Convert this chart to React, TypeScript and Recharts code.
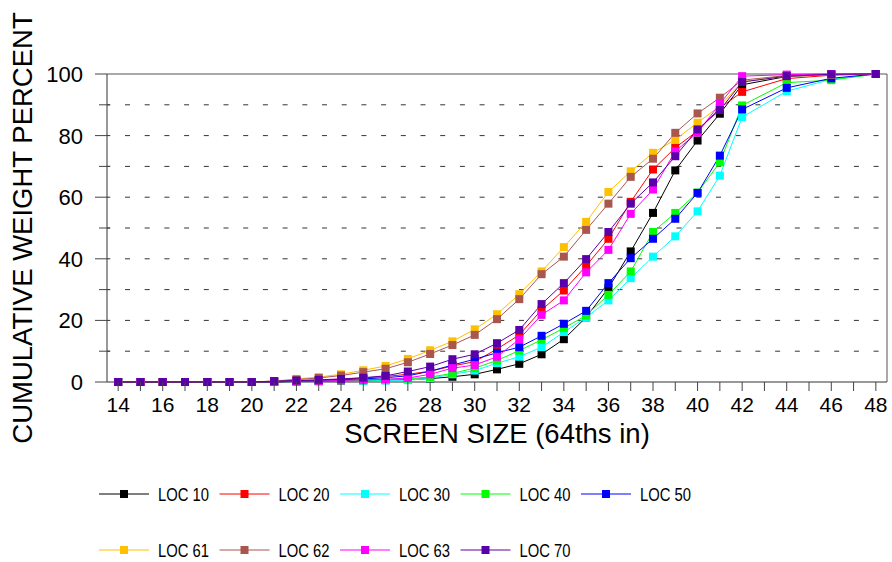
import React from "react";
import {
  LineChart,
  Line,
  XAxis,
  YAxis,
  ReferenceLine,
  Legend,
} from "recharts";

// screen sizes in 64ths of an inch
const sizes = [
  14, 15, 16, 17, 18, 19, 20, 21, 22, 23, 24, 25, 26, 27, 28, 29, 30, 31, 32,
  33, 34, 35, 36, 37, 38, 39, 40, 41, 42, 44, 46, 48,
];

// cumulative weight percent per location
const loc10 = [
  0, 0, 0, 0, 0, 0, 0, 0.1, 0.2, 0.3, 0.4, 0.5, 0.6, 0.8, 1.1, 1.7, 2.5, 4.1,
  5.9, 9.0, 13.9, 21.0, 30.5, 42.4, 54.9, 68.7, 78.4, 87.1, 96.5, 99.2, 99.8, 100,
];
const loc20 = [
  0, 0, 0, 0, 0, 0, 0, 0.2, 0.4, 0.6, 0.9, 1.3, 1.8, 2.5, 3.5, 5.2, 6.6, 10.7,
  15.3, 23.4, 29.7, 37.7, 46.5, 58.5, 69.0, 76.1, 81.5, 89.0, 94.2, 98.5, 99.6, 100,
];
const loc30 = [
  0, 0, 0, 0, 0, 0, 0, 0, 0.1, 0.2, 0.3, 0.4, 0.5, 0.6, 1.2, 2.5, 3.7, 6.1, 8.2,
  11.3, 16.2, 21.0, 26.5, 33.7, 40.7, 47.3, 55.4, 67.0, 86.0, 94.4, 98.3, 100,
];
const loc40 = [
  0, 0, 0, 0, 0, 0, 0, 0, 0.2, 0.3, 0.4, 0.6, 0.8, 1.1, 1.6, 2.8, 4.5, 7.0,
  10.2, 13.7, 17.5, 21.6, 28.3, 35.9, 48.7, 54.9, 61.5, 71.3, 89.8, 97.2, 98.0, 100,
];
const loc50 = [
  0, 0, 0, 0, 0, 0, 0, 0, 0.3, 0.5, 0.7, 1.0, 1.4, 2.0, 3.5, 5.5, 7.4, 9.5,
  11.3, 15.0, 18.9, 23.1, 32.1, 40.2, 46.5, 53.0, 61.4, 73.5, 88.5, 95.5, 98.6, 100,
];
const loc61 = [
  0, 0, 0, 0, 0, 0, 0, 0.3, 1.0, 1.6, 2.5, 3.8, 5.2, 7.5, 10.3, 13.2, 17.1,
  22.0, 28.5, 35.9, 43.8, 52.0, 61.7, 68.4, 74.4, 78.7, 84.2, 89.6, 97.5, 99.3, 99.8, 100,
];
const loc62 = [
  0, 0, 0, 0, 0, 0, 0, 0.2, 0.8, 1.3, 2.1, 3.2, 4.3, 6.4, 9.1, 12.0, 15.3,
  20.4, 26.9, 35.0, 40.7, 49.4, 57.9, 66.6, 72.5, 80.9, 87.2, 92.3, 98.0, 99.5, 99.9, 100,
];
const loc63 = [
  0, 0, 0, 0, 0, 0, 0, 0, 0.2, 0.3, 0.5, 0.7, 0.9, 1.3, 2.5, 4.5, 5.5, 8.2,
  13.9, 21.8, 26.5, 35.6, 42.9, 54.6, 62.5, 74.9, 81.0, 90.3, 99.3, 99.8, 100, 100,
];
const loc70 = [
  0, 0, 0, 0, 0, 0, 0, 0.3, 0.5, 0.7, 1.0, 1.4, 2.0, 3.4, 5.0, 7.4, 9.0, 12.6,
  16.9, 25.3, 32.1, 39.9, 48.7, 57.9, 64.8, 73.3, 82.0, 88.3, 97.4, 99.3, 99.9, 100,
];

const xTicks = [
  14, 15, 16, 17, 18, 19, 20, 21, 22, 23, 24, 25, 26, 27, 28, 29, 30, 31, 32,
  33, 34, 35, 36, 37, 38, 39, 40, 41, 42, 43, 44, 45, 46, 47, 48,
];
const yTicks = [0, 10, 20, 30, 40, 50, 60, 70, 80, 90, 100];
const gridLevels = [10, 20, 30, 40, 50, 60, 70, 80, 90];

const series = [
  { key: "LOC 10", values: loc10, color: "#000000" },
  { key: "LOC 20", values: loc20, color: "#FF0000" },
  { key: "LOC 30", values: loc30, color: "#00FFFF" },
  { key: "LOC 40", values: loc40, color: "#00FF00" },
  { key: "LOC 50", values: loc50, color: "#0000FF" },
  { key: "LOC 61", values: loc61, color: "#FFC000" },
  { key: "LOC 62", values: loc62, color: "#A9564F" },
  { key: "LOC 63", values: loc63, color: "#FF00FF" },
  { key: "LOC 70", values: loc70, color: "#5A00A8" },
];

const chartData = sizes.map((size, i) => {
  const row: { [key: string]: number } = { size };
  series.forEach((s) => {
    row[s.key] = s.values[i];
  });
  return row;
});

const FONT = '"Liberation Sans", Arial, sans-serif';

function SquareDot(props: any) {
  const { cx, cy, stroke } = props;
  if (cx == null || cy == null) return null;
  return <rect x={cx - 4} y={cy - 4} width={8} height={8} fill={stroke} />;
}

function XTick(props: any) {
  const { x, y, payload } = props;
  const v = payload.value;
  return (
    <g>
      <line x1={x} y1={y} x2={x} y2={y + 9} stroke="#444" strokeWidth={1} />
      {v % 2 === 0 && (
        <text
          x={x}
          y={y + 30}
          textAnchor="middle"
          fontFamily={FONT}
          fontSize={21}
          fill="#000"
        >
          {v}
        </text>
      )}
    </g>
  );
}

function YTick(props: any) {
  const { x, y, payload } = props;
  const v = payload.value;
  const major = v % 20 === 0;
  return (
    <g>
      <line
        x1={major ? x - 12 : x - 8}
        y1={y}
        x2={major ? x : x + 3}
        y2={y}
        stroke="#444"
        strokeWidth={1}
      />
      {major && (
        <text
          x={x - 24}
          y={y + 8}
          textAnchor="end"
          fontFamily={FONT}
          fontSize={22}
          fill="#000"
        >
          {v}
        </text>
      )}
    </g>
  );
}

function LegendBox() {
  const rows = [series.slice(0, 5), series.slice(5)];
  return (
    <svg width={892} height={100} style={{ display: "block" }}>
      {rows.map((row, r) =>
        row.map((s, i) => {
          const x0 = 99 + i * 120.5;
          const y0 = 34 + r * 56;
          return (
            <g key={s.key}>
              <line x1={x0} y1={y0} x2={x0 + 50} y2={y0} stroke={s.color} strokeWidth={1} />
              <rect x={x0 + 21} y={y0 - 4} width={8} height={8} fill={s.color} />
              <text
                x={x0 + 59}
                y={y0 + 7}
                fontFamily={FONT}
                fontSize={18}
                textLength={51}
                lengthAdjust="spacingAndGlyphs"
                fill="#000"
              >
                {s.key}
              </text>
            </g>
          );
        })
      )}
    </svg>
  );
}

export default function App() {
  return (
    <div style={{ position: "absolute", left: 0, top: 0, width: 892, height: 562, background: "#fff" }}>
      <LineChart
        width={892}
        height={562}
        data={chartData}
        margin={{ top: 74, right: 5, left: 0, bottom: 100 }}
      >
        <XAxis
          dataKey="size"
          type="number"
          domain={[13.5, 48.5]}
          ticks={xTicks}
          interval={0}
          tickSize={0}
          tickMargin={0}
          tick={<XTick />}
          axisLine={{ stroke: "#333" }}
          height={80}
          label={{
            value: "SCREEN SIZE (64ths in)",
            position: "insideTop",
            offset: 41,
            style: { fontFamily: FONT, fontSize: 27.5, fill: "#000" },
          }}
        />
        <YAxis
          type="number"
          domain={[0, 100]}
          ticks={yTicks}
          interval={0}
          width={107}
          tickSize={0}
          tickMargin={0}
          tick={<YTick />}
          axisLine={{ stroke: "#333" }}
          label={{
            value: "CUMULATIVE WEIGHT PERCENT",
            angle: -90,
            position: "insideLeft",
            offset: 0,
            dx: 22,
            style: { fontFamily: FONT, fontSize: 27.5, fill: "#000", textAnchor: "middle" },
          }}
        />
        {gridLevels.map((g) => (
          <ReferenceLine
            key={g}
            y={g}
            stroke="#333"
            strokeWidth={1}
            strokeDasharray="5 14.7"
            strokeDashoffset={1.7}
          />
        ))}
        <ReferenceLine y={100} stroke="#555" strokeWidth={1} />
        <ReferenceLine x={48.5} stroke="#555" strokeWidth={1} />
        {series.map((s) => (
          <Line
            key={s.key}
            dataKey={s.key}
            type="linear"
            stroke={s.color}
            strokeWidth={1}
            dot={<SquareDot />}
            activeDot={false}
            isAnimationActive={false}
          />
        ))}
        <Legend
          layout="vertical"
          align="center"
          verticalAlign="middle"
          wrapperStyle={{ left: 0, top: 460, width: 892, height: 100 }}
          content={() => <LegendBox />}
        />
      </LineChart>
    </div>
  );
}
